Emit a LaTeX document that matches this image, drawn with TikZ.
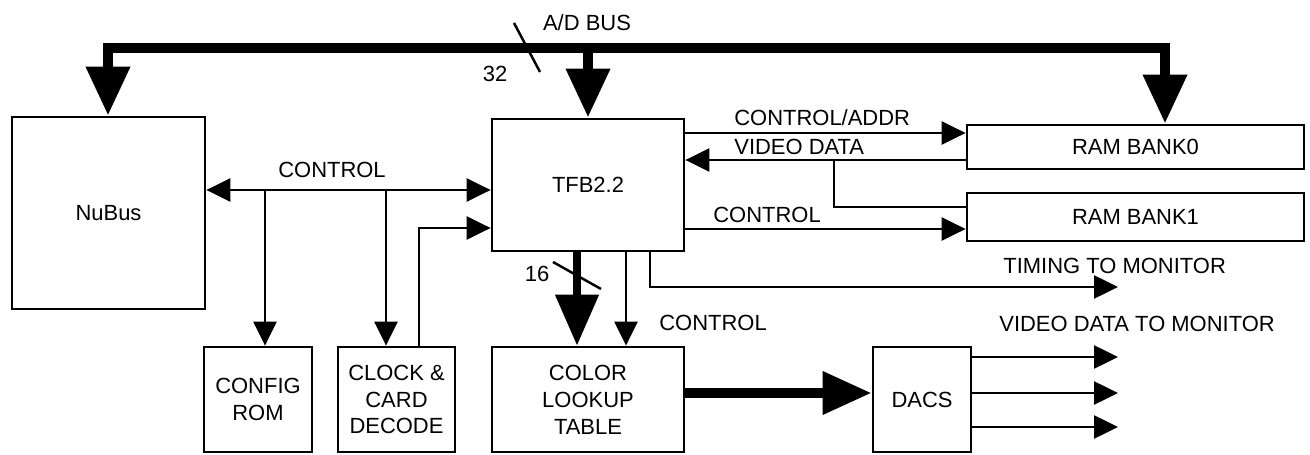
\documentclass[tikz,border=0pt]{standalone}
\usepackage{fontspec}
\setmainfont{Liberation Sans}
\usetikzlibrary{arrows.meta,positioning,calc}

\begin{document}
\begin{tikzpicture}[x=0.02cm,y=-0.02cm,
  every node/.style={font=\fontsize{12.5}{15.3}\selectfont},
  block/.style={draw,line width=1.6pt,inner sep=0pt,align=center},
  lbl/.style={inner sep=0pt},
  wire/.style={line width=1.4pt},
  sig/.style={line width=1.4pt,-{Triangle[length=0.48cm,width=0.46cm]}},
  sigboth/.style={line width=1.4pt,{Triangle[length=0.48cm,width=0.46cm]}-{Triangle[length=0.48cm,width=0.46cm]}},
  bus/.style={line width=5.7pt,line cap=rect},
  busdrop/.style={line width=5.7pt,-{Triangle[length=0.98cm,width=0.84cm]}}]
\useasboundingbox (0,0) rectangle (1310,455);

\node[block,minimum width=3.86cm,minimum height=3.84cm] (nubus) at (108.5,213) {NuBus};
\node[block,minimum width=3.84cm,minimum height=2.64cm] (tfb) at (588,185) {TFB2.2};
\node[block,minimum width=6.74cm,minimum height=0.88cm] (rambank0) at (1135.5,147) {RAM BANK0};
\node[block,minimum width=6.74cm,minimum height=0.96cm] (rambank1) at (1135.5,217) {RAM BANK1};
\node[block,minimum width=2.16cm,minimum height=2.1cm] (configrom) at (258,399.5) {CONFIG\\ROM};
\node[block,minimum width=2.34cm,minimum height=2.1cm] (clock) at (396.5,399.5) {CLOCK \&\\CARD\\DECODE};
\node[block,minimum width=3.84cm,minimum height=2.1cm] (clut) at (588,399.5) {COLOR\\LOOKUP\\TABLE};
\node[block,minimum width=1.96cm,minimum height=2.1cm] (dacs) at (922,399.5) {DACS};

\node[lbl] (adbus) at (587,23) {A/D BUS};
\node[lbl] (w32) at (495,74) {32};
\node[lbl] (lctl) at (332,170) {CONTROL};
\node[lbl,anchor=west] (lctladdr) at (734,118) {CONTROL/ADDR};
\node[lbl,anchor=west] (lvdata) at (734,147) {VIDEO DATA};
\node[lbl,anchor=west] (lctlram) at (713,215) {CONTROL};
\node[lbl,anchor=west] (ltiming) at (1003,266) {TIMING TO MONITOR};
\node[lbl,anchor=west] (lctlclut) at (659,323) {CONTROL};
\node[lbl,anchor=west] (lvmon) at (999,324) {VIDEO DATA TO MONITOR};
\node[lbl] (w16) at (537,274) {16};

\coordinate (busl) at (108,48);
\coordinate (busr) at (1165,48);
\draw[bus] (busl) -- (busr);
\draw[busdrop] (busl) -- (busl |- nubus.north);
\draw[busdrop] (tfb.north |- busl) -- (tfb.north);
\draw[busdrop] (busr) -- (busr |- rambank0.north);
\draw[wire] (514,23) -- (540,72);

\coordinate (c1) at (265,190);
\coordinate (c2) at (386,190);
\coordinate (c3) at (419,228);
\draw[sigboth] (nubus.east |- c1) -- (tfb.west |- c1);
\draw[sig] (c1) -- (c1 |- configrom.north);
\draw[sig] (c2) -- (c2 |- clock.north);
\draw[sig] (c3 |- clock.north) |- (tfb.west |- c3);

\coordinate (r1) at (0,133);
\coordinate (r2) at (834,160);
\coordinate (r3) at (0,207);
\coordinate (r4) at (0,229);
\draw[sig] (tfb.east |- r1) -- (rambank0.west |- r1);
\draw[sig] (rambank0.west |- r2) -- (tfb.east |- r2);
\draw[wire] (r2) |- (rambank1.west |- r3);
\draw[sig] (tfb.east |- r4) -- (rambank1.west |- r4);

\coordinate (tm) at (1118,287);
\draw[sig] (tfb.south -| 650,0) |- (tm);
\draw[line width=4.5pt,-{Triangle[length=1.02cm,width=0.84cm]}] (tfb.south -| 577,0) -- (clut.north -| 577,0);
\draw[wire] (553,262) -- (601,289);
\draw[sig] (tfb.south -| 626,0) -- (clut.north -| 626,0);

\draw[line width=5.7pt,-{Triangle[length=0.98cm,width=0.82cm]}] (clut.east |- 0,393) -- (dacs.west |- 0,393);
\foreach \y/\n in {357/1,393/2,427/3} {
  \coordinate (out\n) at (1118,\y);
  \draw[sig] (dacs.east |- out\n) -- (out\n);
}
\end{tikzpicture}
\end{document}
